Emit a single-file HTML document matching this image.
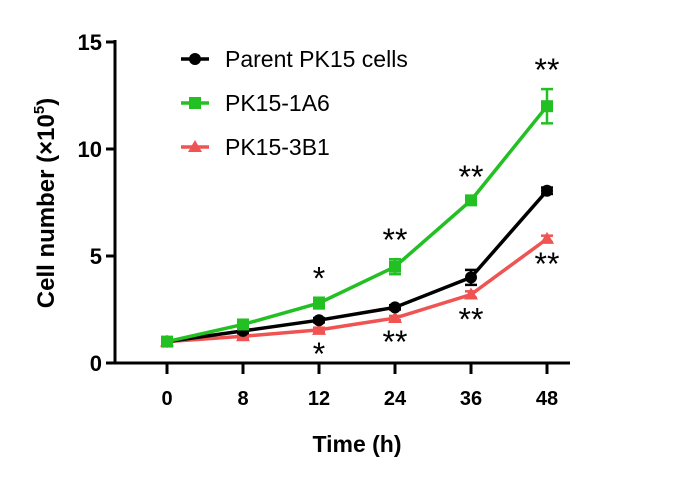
<!DOCTYPE html>
<html><head><meta charset="utf-8"><style>
body{margin:0;background:#fff;width:673px;height:480px;overflow:hidden}
text{font-family:"Liberation Sans",Arial,sans-serif;font-weight:bold;fill:#000}
</style></head><body>
<svg id="chart" width="673" height="480"></svg>
<script>
const categories=["0","8","12","24","36","48"];
const parentVals=[1,1.5,2.0,2.6,4.0,8.05];
const parentErr=[0.1,0.1,0.1,0.1,0.35,0.15];
const a6Vals=[1,1.8,2.8,4.5,7.6,12.0];
const a6Err=[0.1,0.1,0.25,0.35,0.2,0.8];
const b1Vals=[1,1.25,1.55,2.1,3.2,5.8];
const b1Err=[0.1,0.1,0.1,0.1,0.15,0.15];
const yTicks=[0,5,10,15];
const a6Stars=["","","*","**","**","**"];
const b1Stars=["","","*","**","**","**"];

const svg=document.getElementById('chart');
const NS='http://www.w3.org/2000/svg';
const X0=167,DX=76,Y0=363,YS=(363-42)/15,AX=115;
const xs=i=>X0+i*DX, ys=v=>Y0-v*YS;
function mk(t,a,p){const e=document.createElementNS(NS,t);for(const k in a)e.setAttribute(k,a[k]);(p||svg).appendChild(e);return e;}

let yax=mk('line',{x1:AX,y1:40,x2:AX,y2:Y0+1.5,stroke:'#000','stroke-width':3});


let xax=mk('line',{x1:AX-1.5,y1:Y0,x2:570,y2:Y0,stroke:'#000','stroke-width':3});


yTicks.forEach(v=>{
  mk('line',{x1:AX-9,y1:ys(v),x2:AX,y2:ys(v),stroke:'#000','stroke-width':3});
  let t=mk('text',{x:AX-13,y:ys(v)+8,'text-anchor':'end','font-size':22});t.textContent=v;
  
  
});
categories.forEach((c,i)=>{
  mk('line',{x1:xs(i),y1:Y0,x2:xs(i),y2:Y0+11,stroke:'#000','stroke-width':3});
  let t=mk('text',{x:xs(i),y:405,'text-anchor':'middle','font-size':20});t.textContent=c;
  
  
});
let xt=mk('text',{x:357,y:452,'text-anchor':'middle','font-size':23});xt.textContent='Time (h)';


let yt=mk('text',{transform:'translate(54,203) rotate(-90)','text-anchor':'middle','font-size':24});
yt.innerHTML='Cell number (×10<tspan font-size="15" dy="-10">5</tspan><tspan dy="10">)</tspan>';



function marker(shape,x,y,col,g){
  if(shape==='circle')mk('circle',{cx:x,cy:y,r:6,fill:col},g);
  else if(shape==='square')mk('rect',{x:x-6,y:y-6,width:12,height:12,fill:col},g);
  else mk('polygon',{points:`${x},${y-7} ${x+7},${y+5} ${x-7},${y+5}`,fill:col},g);
}
function series(name,vals,errs,col,shape){
  const g=mk('g',{});
  
  
  mk('polyline',{points:vals.map((v,i)=>xs(i)+','+ys(v)).join(' '),fill:'none',stroke:col,'stroke-width':3.5},g);
  vals.forEach((v,i)=>{
    const x=xs(i),t=ys(v+errs[i]),b=ys(v-errs[i]);
    mk('line',{x1:x,y1:t,x2:x,y2:b,stroke:col,'stroke-width':2.5},g);
    mk('line',{x1:x-6,y1:t,x2:x+6,y2:t,stroke:col,'stroke-width':2.5},g);
    mk('line',{x1:x-6,y1:b,x2:x+6,y2:b,stroke:col,'stroke-width':2.5},g);
    marker(shape,x,ys(v),col,g);
  });
}
series('series-pk15-3b1',b1Vals,b1Err,'#ef5453','tri');
series('series-parent',parentVals,parentErr,'#000','circle');
series('series-pk15-1a6',a6Vals,a6Err,'#22c022','square');

a6Stars.forEach((s,i)=>{if(!s)return;
  let t=mk('text',{x:xs(i),y:ys(a6Vals[i]+a6Err[i])-8,'text-anchor':'middle','font-size':32,style:'font-weight:normal'});t.textContent=s;
  
  });
b1Stars.forEach((s,i)=>{if(!s)return;
  let t=mk('text',{x:xs(i),y:ys(b1Vals[i]-b1Err[i])+33,'text-anchor':'middle','font-size':32,style:'font-weight:normal'});t.textContent=s;
  
  });

[['Parent PK15 cells','#000','circle',59],['PK15-1A6','#22c022','square',103],['PK15-3B1','#ef5453','tri',147]].forEach(([lab,col,sh,y])=>{
  const g=mk('g',{});
  
  
  mk('line',{x1:181,y1:y,x2:209,y2:y,stroke:col,'stroke-width':3.5},g);
  marker(sh,195,y,col,g);
  const t=mk('text',{x:225,y:y+8,'font-size':23,style:'font-weight:normal'},g);t.textContent=lab;
});
</script>
</body></html>
